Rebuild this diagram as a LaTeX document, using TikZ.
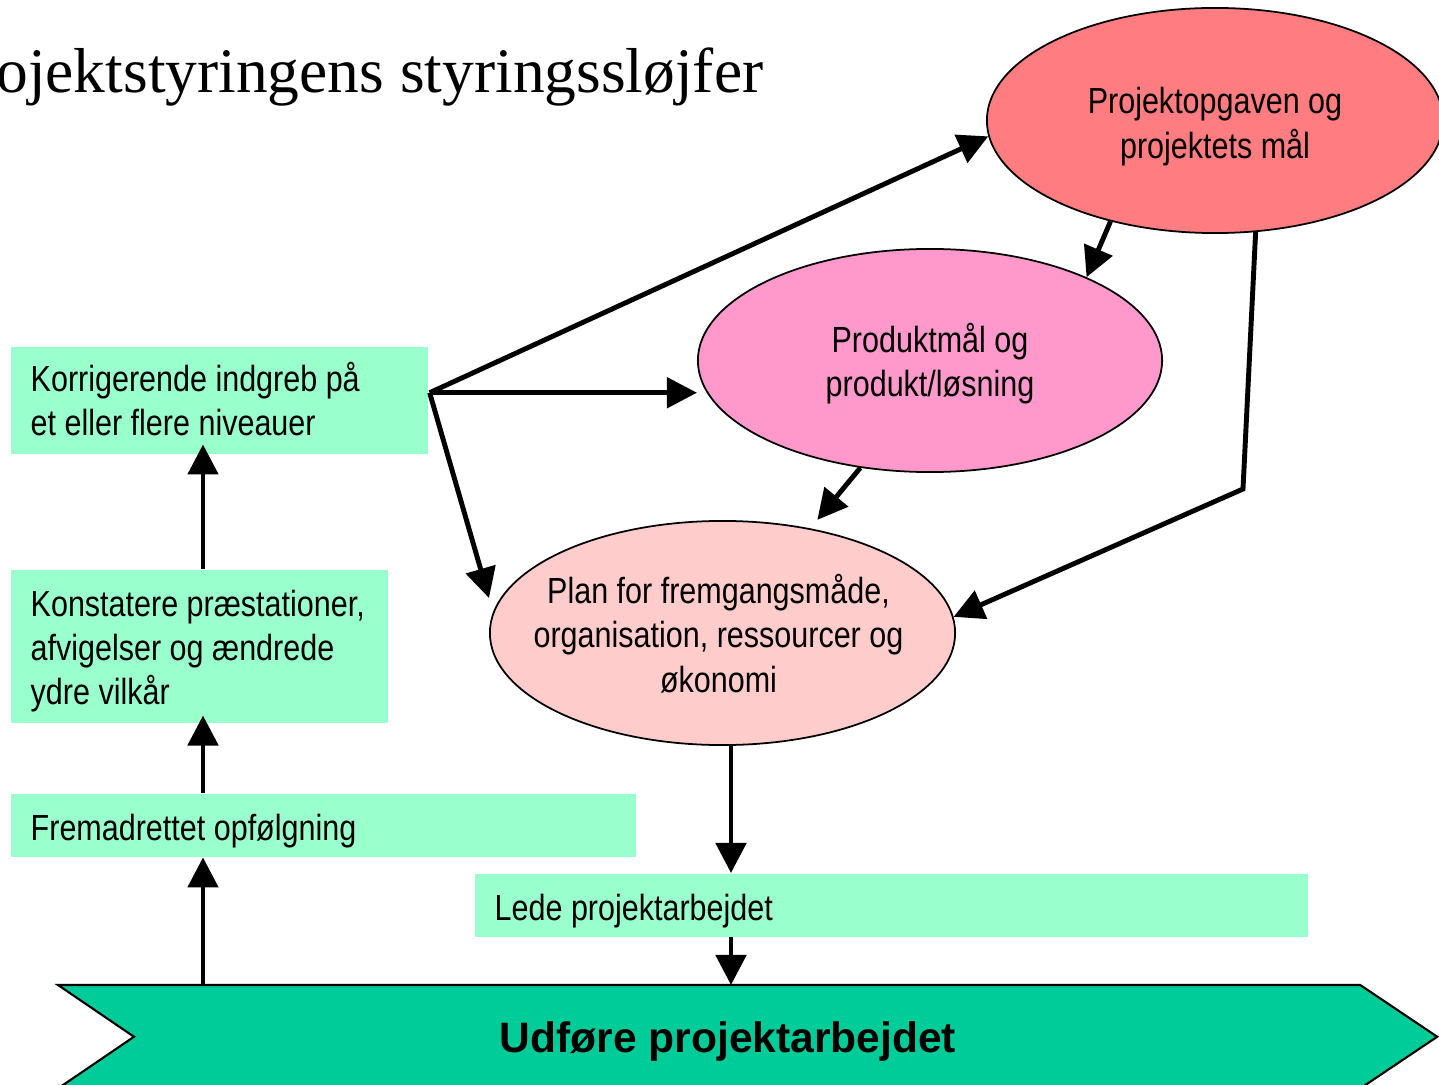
\documentclass[tikz,border=0pt]{standalone}
\usepackage{fontspec}
\setmainfont{Liberation Serif}
\newfontfamily\narrowsans[FakeStretch=0.84]{Liberation Sans}
\newfontfamily\plainsans{Liberation Sans}
\usetikzlibrary{shapes.geometric,arrows.meta,calc}

\definecolor{mint}{HTML}{99FFCC}
\definecolor{sea}{HTML}{00CC99}
\definecolor{salmon}{HTML}{FF7C80}
\definecolor{rosepink}{HTML}{FF99CC}
\definecolor{blush}{HTML}{FFCCCC}

% stacked lines whose reference point is the first baseline
\newcommand\leftstack[1]{\begin{tabular}[t]{@{}l@{}}#1\end{tabular}}
\newcommand\midstack[1]{\begin{tabular}[t]{@{}c@{}}#1\end{tabular}}

\begin{document}
\begin{tikzpicture}[x=0.01cm,y=-0.01cm,
  lbl/.style={font=\narrowsans\fontsize{10.33pt}{12.52pt}\selectfont, inner sep=0pt},
  lefttext/.style={lbl, anchor=base west},
  midtext/.style={lbl, anchor=base},
  gbox/.style={fill=mint, draw=none, anchor=north west, inner sep=0pt},
  oval/.style={ellipse, draw=black, line width=0.5pt, inner sep=0pt},
  conn/.style={line width=1.4pt, -{Triangle[length=0.3cm,width=0.3cm]}},
]
\useasboundingbox (0,0) rectangle (1439,1085);

% title
\node[anchor=base east, inner sep=0pt, font=\fontsize{18.05pt}{20pt}\selectfont]
  (title) at (764,93) {ojektstyringens styringssløjfer};

% green step boxes and their texts
\node[gbox, minimum width=4.17cm, minimum height=1.07cm] (kor) at (10,346) {};
\node[lefttext] (korT) at (30,391) {\leftstack{Korrigerende indgreb på\\et eller flere niveauer}};
\node[gbox, minimum width=3.77cm, minimum height=1.53cm] (kon) at (10,569) {};
\node[lefttext] (konT) at (30,616) {\leftstack{Konstatere præstationer,\\afvigelser og ændrede\\ydre vilkår}};
\node[gbox, minimum width=6.25cm, minimum height=0.63cm] (fre) at (10,793) {};
\node[lefttext] (freT) at (30,840) {Fremadrettet opfølgning};
\node[gbox, minimum width=8.33cm, minimum height=0.63cm] (lede) at (474,873) {};
\node[lefttext] (ledeT) at (494,920) {Lede projektarbejdet};

% ellipses and their texts
\node[oval, fill=salmon, minimum width=4.56cm, minimum height=2.25cm] (proj) at (1215,120.5) {};
\node[midtext] (projT) at ($(proj)+(0,-6.5)$) {\midstack{Projektopgaven og\\projektets mål}};
\node[oval, fill=rosepink, minimum width=4.64cm, minimum height=2.23cm] (prod) at (930,360.5) {};
\node[midtext] (prodT) at ($(prod)+(0,-8)$) {\midstack{Produktmål og\\produkt/løsning}};
\node[oval, fill=blush, minimum width=4.65cm, minimum height=2.24cm] (plan) at (722.5,633) {};
\node[midtext, font=\narrowsans\fontsize{10.33pt}{12.75pt}\selectfont] (planT) at ($(plan)+(-4,-30)$)
  {\midstack{Plan for fremgangsmåde,\\organisation, ressourcer og\\økonomi}};

% execution band
\node[inner sep=0pt, minimum width=13.77cm, minimum height=1.02cm, anchor=north west]
  (band) at (58,985) {};
\draw[fill=sea, line width=0.6pt, line join=miter]
  (band.north west) -- ($(band.north east)+(-77,0)$) -- (band.east)
  -- ($(band.south east)+(-77,0)$) -- (band.south west) -- ($(band.west)+(76,0)$) -- cycle;
\node[font=\plainsans\bfseries\fontsize{12.1pt}{14pt}\selectfont, inner sep=0pt, anchor=base]
  (udf) at (728,1052) {Udføre projektarbejdet};

% connectors
\coordinate (fan) at ($(kor.east)+(1,-7.5)$);
\coordinate (vline) at (731,0);
\coordinate (spine) at (203,0);
\coordinate (bend) at (1243,489);

\draw[conn] (fan) -- (proj.184);
\draw[conn] (fan) -- (fan -| prod.west);
\draw[conn] (fan) -- ($(plan.west)+(0,-35)$);
\draw[conn] (proj.224) -- (prod.28);
\draw[conn, shorten >=0.11cm] (prod.237) -- (plan.50);
\draw[conn, line join=miter] (proj.290) -- (bend) -- (plan.4.6);
\draw[conn] (plan.south -| vline) -- (lede.north -| vline);
\draw[conn] (lede.south -| vline) -- (band.north -| vline);
\draw[conn] (band.north -| spine) -- (fre.south -| spine);
\draw[conn, shorten >=-0.08cm] (fre.north -| spine) -- (kon.south -| spine);
\draw[conn, shorten >=-0.1cm] (kon.north -| spine) -- (kor.south -| spine);
\end{tikzpicture}
\end{document}
